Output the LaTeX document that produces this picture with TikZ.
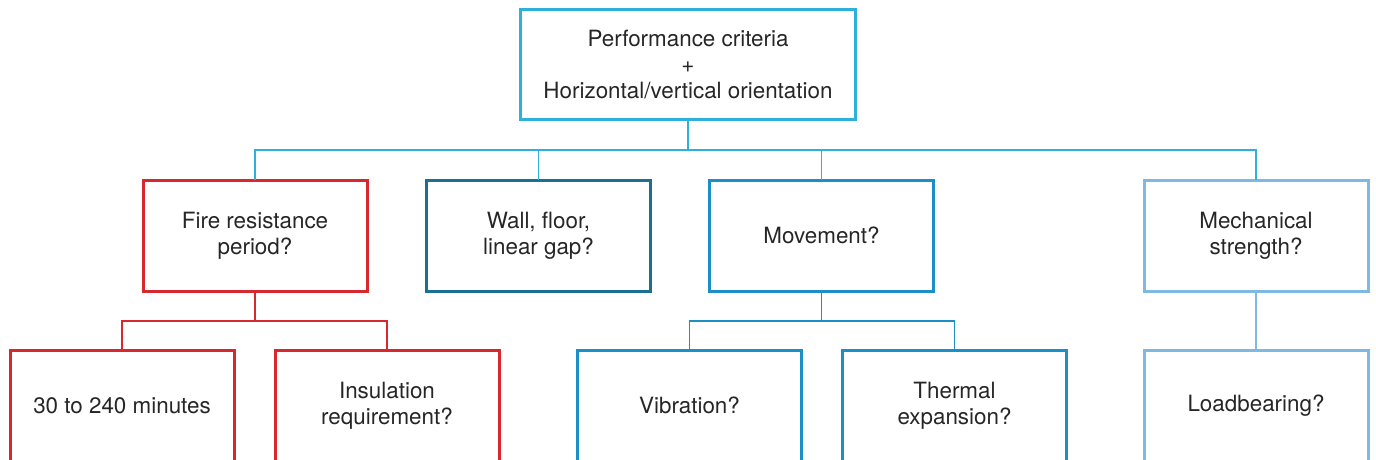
\documentclass[tikz,border=0pt]{standalone}
\usepackage{fontspec}
\setmainfont{TeX Gyre Heros}
\usetikzlibrary{positioning}

\definecolor{topblue}{HTML}{2EB0DC}
\definecolor{firered}{HTML}{D7282F}
\definecolor{darkblue}{HTML}{1B6F93}
\definecolor{midblue}{HTML}{1C8FC6}
\definecolor{lightblue}{HTML}{7DB9E0}

\tikzset{box/.style={draw,line width=1.5pt,align=center,inner sep=0pt,outer sep=0pt,
  minimum width=112pt,minimum height=55.5pt,
  font=\fontsize{11.2}{13}\selectfont,text=black!85}}
\tikzset{link/.style={line width=0.8pt}}

\begin{document}
\begin{tikzpicture}[x=0.5pt,y=0.5pt,node distance=85pt,on grid]
\useasboundingbox (0,0) rectangle (1376,-460);
\clip (0,0) rectangle (1376,-460);

  \node[box,topblue,minimum width=167.5pt,minimum height=55pt] (crit) at (688,-65)
    {\textcolor{black!85}{Performance criteria}\\\textcolor{black!85}{+}\\\textcolor{black!85}{Horizontal/vertical orientation}};

  \node[box,firered]    (fire) at (255,-235.5)  {\textcolor{black!85}{Fire resistance}\\\textcolor{black!85}{period?}};
  \node[box,darkblue]   (gap)  at (538.5,-235.5) {\textcolor{black!85}{Wall, floor,}\\\textcolor{black!85}{linear gap?}};
  \node[box,midblue]    (move) at (821.5,-235.5) {\textcolor{black!85}{Movement?}};
  \node[box,lightblue]  (mech) at (1256,-235.5) {\textcolor{black!85}{Mechanical}\\\textcolor{black!85}{strength?}};

  \node[box,firered]    (mins) at (122,-405.5)  {\textcolor{black!85}{30 to 240 minutes}};
  \node[box,firered]    (insu) at (387,-405.5)  {\textcolor{black!85}{Insulation}\\\textcolor{black!85}{requirement?}};
  \node[box,midblue]    (vibr) at (689.5,-405.5) {\textcolor{black!85}{Vibration?}};
  \node[box,midblue]    (therm) at (954.5,-405.5) {\textcolor{black!85}{Thermal}\\\textcolor{black!85}{expansion?}};
  \node[box,lightblue]  (load) [below=of mech] {\textcolor{black!85}{Loadbearing?}};

  \coordinate (busA) at (688,-150);
  \coordinate (busB) at (255,-321);
  \coordinate (busC) at (821.5,-321);

% top level
\draw[link,topblue] (crit.south) -- (busA);
\draw[link,topblue] (fire.north) |- (busA) -| (mech.north);
\draw[link,topblue] (gap.north) -- (gap.north |- busA);
\draw[link,topblue] (move.north) -- (move.north |- busA);

% second level
\draw[link,firered] (fire.south) -- (busB);
\draw[link,firered] (mins.north) |- (busB) -| (insu.north);
\draw[link,midblue] (move.south) -- (busC);
\draw[link,midblue] (vibr.north) |- (busC) -| (therm.north);
\draw[link,lightblue] (mech) -- (load);
\end{tikzpicture}
\end{document}
